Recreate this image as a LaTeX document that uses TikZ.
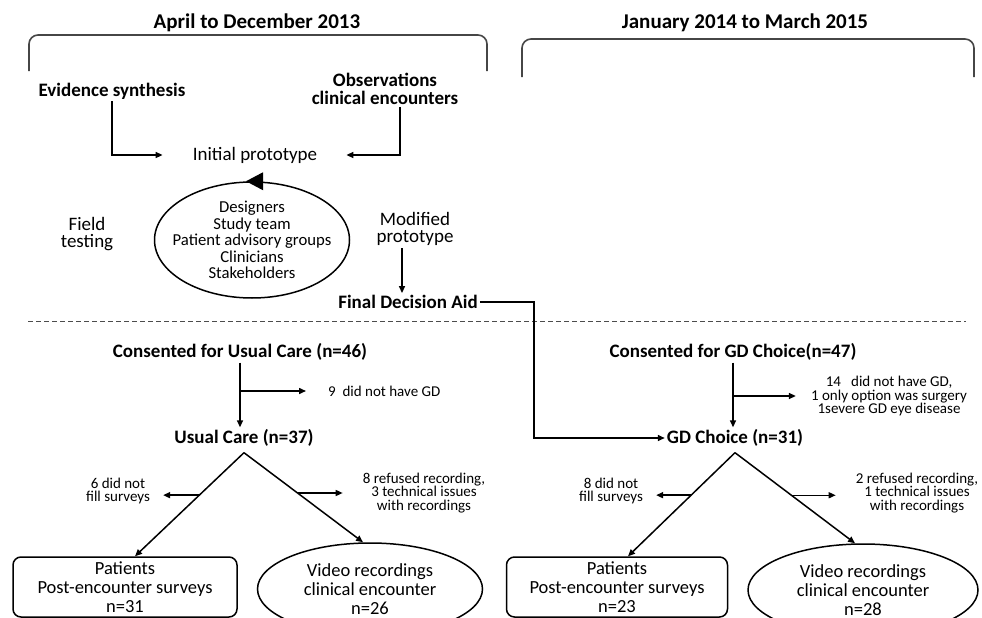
\documentclass[tikz,border=0pt]{standalone}
\usepackage{fontspec}
\setmainfont{Carlito}
\usepackage{tikz}
\usetikzlibrary{arrows.meta, positioning, shapes}

\begin{document}
\begin{tikzpicture}[
    x=1pt, y=-1pt,
    txt/.style={align=center, inner sep=2pt, font=\fontsize{19}{17.5}\selectfont},
    head/.style={txt, font=\fontsize{19}{18}\selectfont\bfseries},
    period/.style={txt, font=\fontsize{21}{25}\selectfont\bfseries},
    note/.style={align=center, inner sep=0pt, font=\fontsize{15}{13.5}\selectfont},
    group/.style={ellipse, draw, line width=1.5pt, align=center, inner xsep=-20pt, inner ysep=0pt, font=\fontsize{16.7}{16.5}\selectfont},
    card/.style={rectangle, rounded corners=8pt, draw, line width=1.5pt, align=center, font=\fontsize{18.5}{18.8}\selectfont},
    oval/.style={ellipse, draw, line width=1.5pt, align=center, inner sep=0pt, font=\fontsize{18.5}{18.8}\selectfont},
    arrow/.style={-{Triangle[length=7pt, width=6pt]}, line width=1.5pt},
    bracket/.style={draw=gray!55!black, line width=1.6pt, rounded corners=9pt}
  ]
    \useasboundingbox (0,0) rectangle (982,618);

    \node[period] (p1) at (257,23) {April to December 2013};
    \node[period] (p2) at (745,23) {January 2014 to March 2015};
    \draw[bracket] (29,71) -- (29,35) -- (487,35) -- (487,71);
    \draw[bracket] (522,77) -- (522,39) -- (974,39) -- (974,77);

    \node[head] (evid) at (112,91) {Evidence synthesis};
    \node[head] (obs) at (385,89) {Observations\\clinical encounters};
    \node[txt] (init) at (255,155) {Initial prototype};
    \draw[arrow] (evid.south) |- ([xshift=-28pt]init.west);
    \draw[arrow] ([xshift=15pt]obs.south) |- ([xshift=27pt]init.east);

    \node[group, minimum width=195pt, minimum height=116pt] (team) at (252,240)
      {Designers\\Study team\\Patient advisory groups\\Clinicians\\Stakeholders};
    \fill ([xshift=-6pt]team.north) -- ++(17,-9) -- ++(0,18) -- cycle;
    \node[txt] (field) at (87,234) {Field\\testing};
    \node[txt] (mod) at (415,229) {Modified\\prototype};
    \node[head] (final) at (408,302) {Final Decision Aid};
    \draw[arrow] ([xshift=-13pt]mod.south) -- ([xshift=-13pt]mod.south |- final.north);

    \draw[gray!60!black, line width=0.9pt, dash pattern=on 5pt off 3pt] (28,321) -- (966,321);

    \node[head] (cuc) at (240,352) {Consented for Usual Care (n=46)};
    \node[head] (uc) at (244,438) {Usual Care (n=37)};
    \node[head] (cgd) at (733,352) {Consented for GD Choice(n=47)};
    \node[head] (gd) at (735,438) {GD Choice (n=31)};
    \coordinate (turn) at (534,302);
    \draw[arrow] (final.east) -- (turn) |- (gd.west);

    \node[note, anchor=west] (ex1) at (328,391) {9\ \ did not have GD};
    \node[note] (ex2) at (889,396) {14\ \ \ did not have GD,\\1 only option was surgery\\1severe GD eye disease};
    \draw[arrow] (cuc.south) -- (cuc.south |- uc.north);
    \draw[arrow] (cuc.south |- ex1.west) -- ([xshift=-22pt]ex1.west);
    \draw[arrow] (cgd.south) -- (cgd.south |- gd.north);
    \draw[arrow] (cgd.south |- ex2.west) -- ([xshift=-15pt]ex2.west);

    \coordinate (ucv) at ([yshift=-4pt]uc.south);
    \node[card, minimum width=224pt, minimum height=60pt] (pt1) at (125,587) {Patients\\Post-encounter surveys\\n=31};
    \node[oval, minimum width=225pt, minimum height=92pt] (vr1) at (370,589) {Video recordings\\clinical encounter\\n=26};
    \node[note] (nf1) at (118,491) {6 did not\\fill surveys};
    \node[note] (nr1) at (424,493) {8 refused recording,\\3 technical issues\\with recordings};
    \draw[arrow] (ucv) -- coordinate[pos=.41] (ucl) ([xshift=10pt]pt1.north);
    \draw[arrow] (ucv) -- coordinate[pos=.45] (ucr) ([xshift=-7pt]vr1.north);
    \draw[arrow] (ucl) -- ([xshift=13pt]nf1.east |- ucl);
    \draw[arrow] (ucr) -- ([xshift=-20pt]nr1.west |- ucr);

    \coordinate (gdv) at ([yshift=-4pt]gd.south);
    \node[card, minimum width=221pt, minimum height=60pt] (pt2) at (617,587) {Patients\\Post-encounter surveys\\n=23};
    \node[oval, minimum width=230pt, minimum height=92pt] (vr2) at (863,590) {Video recordings\\clinical encounter\\n=28};
    \node[note] (nf2) at (611,491) {8 did not\\fill surveys};
    \node[note] (nr2) at (917,493) {2 refused recording,\\1 technical issues\\with recordings};
    \draw[arrow] (gdv) -- coordinate[pos=.41] (gdl) ([xshift=11pt]pt2.north);
    \draw[arrow] (gdv) -- coordinate[pos=.47] (gdr) ([xshift=-8pt]vr2.north);
    \draw[arrow] (gdl) -- ([xshift=13pt]nf2.east |- gdl);
    \draw[arrow] (gdr) -- ([xshift=-20pt]nr2.west |- gdr);
  \end{tikzpicture}
\end{document}
